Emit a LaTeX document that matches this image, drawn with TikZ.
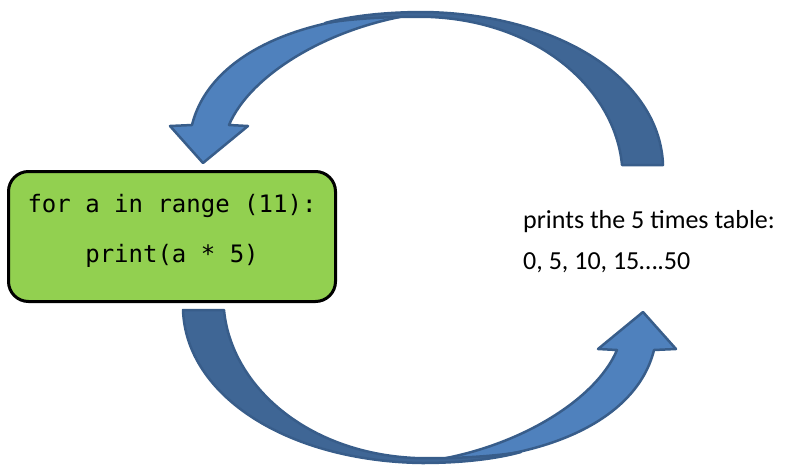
\documentclass[tikz,border=0pt]{standalone}
\usepackage{fontspec}
\setmainfont{Carlito}
\newfontfamily\codefont{DejaVu Sans Mono}
\definecolor{boxgreen}{HTML}{92D050}
\definecolor{arrowlight}{HTML}{4F81BD}
\definecolor{arrowdark}{HTML}{3F6695}
\definecolor{arrowedge}{HTML}{385D8A}
\tikzset{
  codebox/.style={draw=black, line width=3pt, fill=boxgreen, rounded corners=20pt,
    minimum width=327pt, minimum height=130pt, inner sep=0pt},
  codetext/.style={font=\codefont\fontsize{24}{28}\selectfont, inner sep=0pt},
  plaintext/.style={font=\fontsize{26}{30}\selectfont, inner sep=0pt},
  frontface/.style={fill=arrowlight, draw=arrowedge, line width=2.5pt, line join=round},
  backface/.style={fill=arrowdark, draw=arrowedge, line width=2.5pt, line join=round},
}
\newcommand{\loopfront}{%
  \path[frontface] (192,125) .. controls (208,60) and (290,14) .. (424,13)
    .. controls (330,25) and (250,75) .. (229,125)
    -- (248,126) -- (203,163) -- (170,126) -- cycle;}
\newcommand{\loopback}{%
  \path[backface] (622,165) -- (663,165) .. controls (660,80) and (560,14) .. (424,12)
    .. controls (385,12) and (350,16) .. (325,23)
    .. controls (350,19) and (390,16) .. (431,17)
    .. controls (540,22) and (615,90) .. (622,165) -- cycle;}
\begin{document}
\begin{tikzpicture}[x=1pt,y=-1pt]
  \useasboundingbox (0,0) rectangle (787,464);
  % top curved arrow
  \loopfront
  \loopback
  % bottom curved arrow
  \begin{scope}[rotate around={180:(423,237.5)}]
    \loopfront
    \loopback
  \end{scope}
  % code box
  \node[codebox] (box) at (172,236.5) {};
  \node[codetext, anchor=base] (line1) at (172,212) {for a in range (11):};
  \node[codetext, anchor=base] (line2) at (172,262) {print(a * 5)};
  % output text
  \node[plaintext, anchor=base west] (out1) at (523,228) {prints the 5 times table:};
  \node[plaintext, anchor=base west] (out2) at (523,269) {0, 5, 10, 15….50};
\end{tikzpicture}
\end{document}
